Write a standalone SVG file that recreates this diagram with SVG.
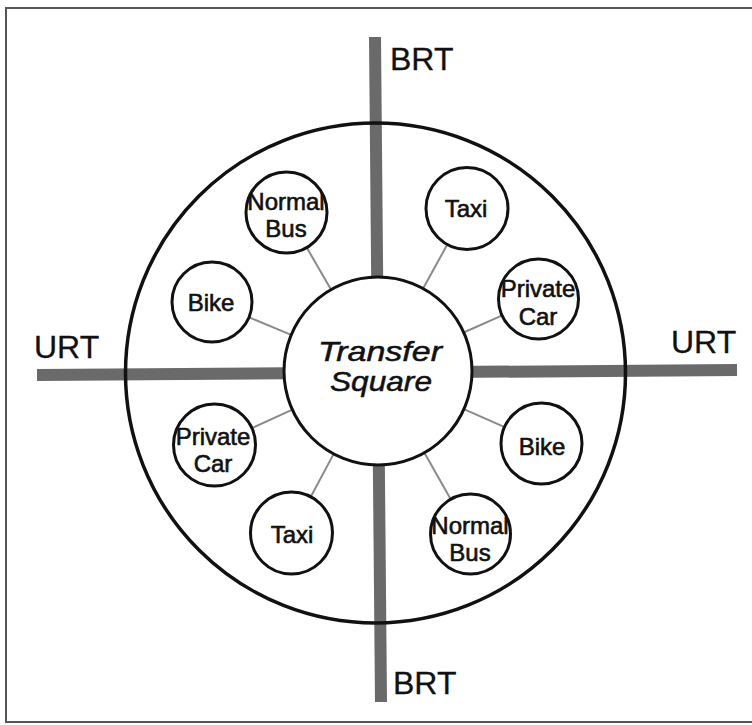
<svg xmlns="http://www.w3.org/2000/svg" width="752" height="725" viewBox="0 0 752 725">
<style>
.frame{fill:none;stroke:#555;stroke-width:2}
.axis{stroke:#6a6a6a;stroke-width:12;stroke-linecap:butt}
.conn{stroke:#8a8a8a;stroke-width:2}
.ring{fill:none;stroke:#111;stroke-width:3.5}
.node{fill:#fff;stroke:#111;stroke-width:3}
.lbl{font-family:"Liberation Sans",Arial,sans-serif;font-size:24px;fill:#111;text-anchor:middle;stroke:#111;stroke-width:0.6}
.big{font-family:"Liberation Sans",Arial,sans-serif;font-size:32px;fill:#111;stroke:#111;stroke-width:0.3}
.center{font-family:"Liberation Sans",Arial,sans-serif;font-size:28px;font-style:italic;fill:#111;text-anchor:middle;stroke:#111;stroke-width:0.5}
</style>
<rect class="frame" x="6" y="8" width="760" height="714"/>
<g id="connectors">
<line class="axis" x1="37" y1="375" x2="737" y2="370"/>
<line class="axis" x1="375" y1="37" x2="381" y2="702"/>
<line class="conn" x1="331" y1="289.6" x2="307" y2="248"/>
<line class="conn" x1="291.2" y1="334.9" x2="249.8" y2="317.7"/>
<line class="conn" x1="423.1" y1="288.6" x2="447.3" y2="244.5"/>
<line class="conn" x1="463.7" y1="332.5" x2="501.1" y2="315.8"/>
<line class="conn" x1="292.4" y1="409.7" x2="251.9" y2="428.1"/>
<line class="conn" x1="333.7" y1="453.9" x2="310.8" y2="496.8"/>
<line class="conn" x1="463.9" y1="409.1" x2="504.1" y2="426.9"/>
<line class="conn" x1="424.4" y1="452.8" x2="450.3" y2="498.4"/>
</g>
<g id="outer-ring"><circle class="ring" cx="375.5" cy="373" r="250"/></g>
<g id="labels">
<text class="big" x="390" y="70">BRT</text>
<text class="big" x="393" y="694">BRT</text>
<text class="big" x="34" y="358">URT</text>
<text class="big" x="671" y="353">URT</text>
</g>
<g id="transfer-square">
<circle class="node" cx="378" cy="371" r="94"/>
<text class="center" x="380" y="361" textLength="124" lengthAdjust="spacingAndGlyphs">Transfer</text>
<text class="center" x="381" y="391" textLength="102" lengthAdjust="spacingAndGlyphs">Square</text>
</g>
<g id="normal-bus-tl"><circle class="node" cx="286.5" cy="212.5" r="40.5"/><text class="lbl" x="286" y="210">Normal</text><text class="lbl" x="286" y="237">Bus</text></g>
<g id="bike-l"><circle class="node" cx="212" cy="302" r="40"/><text class="lbl" x="211" y="311">Bike</text></g>
<g id="taxi-tr"><circle class="node" cx="467" cy="208.5" r="41"/><text class="lbl" x="466" y="217">Taxi</text></g>
<g id="private-car-r"><circle class="node" cx="538.5" cy="299" r="40"/><text class="lbl" x="538" y="297">Private</text><text class="lbl" x="538" y="325">Car</text></g>
<g id="private-car-l"><circle class="node" cx="214.5" cy="445" r="41"/><text class="lbl" x="213" y="445">Private</text><text class="lbl" x="213" y="472">Car</text></g>
<g id="taxi-bl"><circle class="node" cx="291.5" cy="533" r="41"/><text class="lbl" x="292" y="543">Taxi</text></g>
<g id="bike-r"><circle class="node" cx="541.5" cy="443.5" r="40.5"/><text class="lbl" x="542" y="455">Bike</text></g>
<g id="normal-bus-br"><circle class="node" cx="470.5" cy="534" r="40"/><text class="lbl" x="470" y="534">Normal</text><text class="lbl" x="470" y="561">Bus</text></g>
</svg>
